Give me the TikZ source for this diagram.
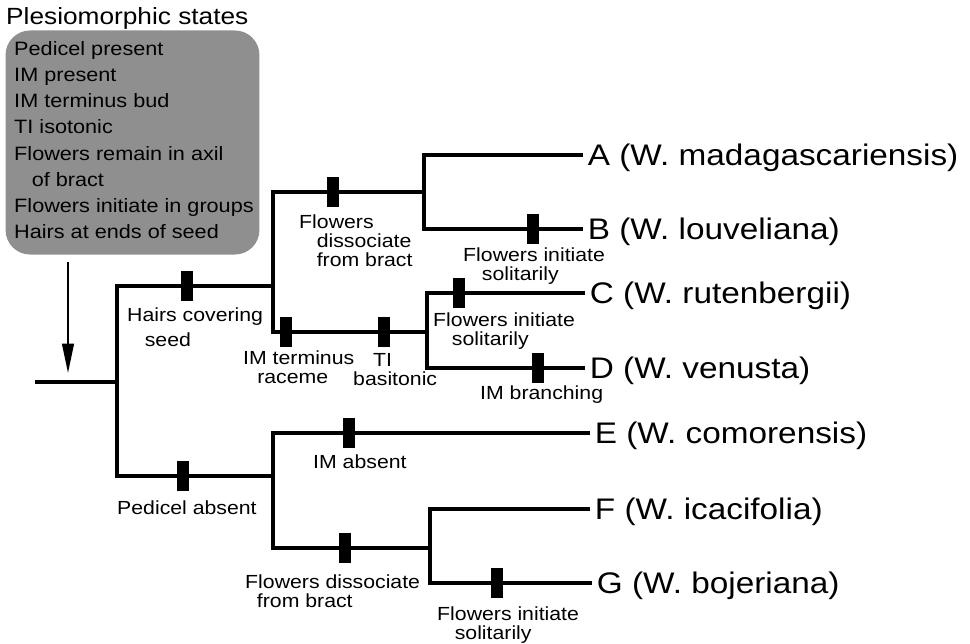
\documentclass[tikz,border=0pt]{standalone}
\usepackage{fontspec}
\setmainfont{Liberation Sans}[FakeStretch=1.12]
\usetikzlibrary{arrows.meta}
\definecolor{boxgrey}{gray}{0.56}
\tikzset{
  branch/.style={line width=3.6pt, line join=miter},
  tick/.style={fill=black, inner sep=0pt, minimum width=10pt, minimum height=25.5pt},
  trait/.style={anchor=north west, inner sep=0pt, align=left, font=\fontsize{16.2}{16}\selectfont},
  taxon/.style={anchor=base west, inner sep=4pt, yshift=-9.1pt, font=\fontsize{25.4}{28}\selectfont},
  statebox/.style={fill=boxgrey, rounded corners=21pt, inner sep=0pt, minimum width=216.75pt, minimum height=191.25pt},
}
\begin{document}
\begin{tikzpicture}[x={(0.03cm,0cm)}, y={(0cm,-0.03cm)}]
  \useasboundingbox (0,0) rectangle (970,644);
  % plesiomorphic states
  \node[anchor=base west, inner sep=0pt, font=\fontsize{20}{24}\selectfont] (title) at (6,25) {Plesiomorphic states};
  \node[statebox] (states) at (132.5,142.5) {};
  \node[anchor=north west, inner sep=0pt, align=left, font=\fontsize{16.5}{22.4}\selectfont] (statelist) at (14,41)
    {Pedicel present\\IM present\\IM terminus bud\\TI isotonic\\Flowers remain in axil\\\hspace*{15pt}of bract\\Flowers initiate in groups\\Hairs at ends of seed};
  \coordinate (arrtop) at (68,262);
  \coordinate (arrtip) at (68,373);
  \draw[line width=1.7pt, -{Triangle[length=25pt, width=10pt]}] (arrtop) -- (arrtip);

  % tree nodes
  \coordinate (r0) at (35,382);
  \coordinate (r) at (117,382);
  \coordinate (u) at (273,286);
  \coordinate (ab) at (424,192);
  \coordinate (cd) at (427,332);
  \coordinate (l) at (273,476);
  \coordinate (fg) at (430,548);
  \coordinate (A) at (583,155);
  \coordinate (B) at (583,229);
  \coordinate (C) at (585,293);
  \coordinate (D) at (585,368);
  \coordinate (E) at (590,433);
  \coordinate (F) at (590,509);
  \coordinate (G) at (592,583);

  \draw[branch] (r0) -- (r);
  \draw[branch] (r) |- (u);
  \draw[branch] (r) |- (l);
  \draw[branch] (u) |- (ab);
  \draw[branch] (u) |- (cd);
  \draw[branch] (ab) |- (A);
  \draw[branch] (ab) |- (B);
  \draw[branch] (cd) |- (C);
  \draw[branch] (cd) |- (D);
  \draw[branch] (l) |- (E);
  \draw[branch] (l) |- (fg);
  \draw[branch] (fg) |- (F);
  \draw[branch] (fg) |- (G);

  % character changes
  \node[tick] (hairs) at (187,286) {};
  \node[tick] (dissup) at (333,192) {};
  \node[tick] (soliB) at (533,229) {};
  \node[tick] (soliC) at (459,293) {};
  \node[tick] (raceme) at (286,332) {};
  \node[tick] (basi) at (384,332) {};
  \node[tick] (branching) at (538,368) {};
  \node[tick] (pedicel) at (183,476) {};
  \node[tick] (imabs) at (349,433) {};
  \node[tick] (disslow) at (345,548) {};
  \node[tick] (soliG) at (497,583) {};

  \node[trait] (hairslab) at (127,308) {Hairs covering\\[5pt]\hspace*{15pt}seed};
  \node[trait] (dissuplab) at (299,215) {Flowers\\\hspace*{15pt}dissociate\\\hspace*{15pt}from bract};
  \node[trait] (soliBlab) at (463,248) {Flowers initiate\\\hspace*{16pt}solitarily};
  \node[trait] (soliClab) at (433,313) {Flowers initiate\\\hspace*{16pt}solitarily};
  \node[trait] (racemelab) at (243,351) {IM terminus\\\hspace*{12pt}raceme};
  \node[trait] (basilab) at (353,353) {\hspace*{17pt}TI\\basitonic};
  \node[trait] (branchinglab) at (480,386) {IM branching};
  \node[trait] (pedicellab) at (117,501) {Pedicel absent};
  \node[trait] (imabslab) at (313,455) {IM absent};
  \node[trait] (disslowlab) at (245,575) {Flowers dissociate\\\hspace*{10pt}from bract};
  \node[trait] (soliGlab) at (437,607) {Flowers initiate\\\hspace*{15pt}solitarily};

  % taxa
  \node[taxon] (Alab) at (A) {A (W. madagascariensis)};
  \node[taxon] (Blab) at (B) {B (W. louveliana)};
  \node[taxon] (Clab) at (C) {C (W. rutenbergii)};
  \node[taxon] (Dlab) at (D) {D (W. venusta)};
  \node[taxon] (Elab) at (E) {E (W. comorensis)};
  \node[taxon] (Flab) at (F) {F (W. icacifolia)};
  \node[taxon] (Glab) at (G) {G (W. bojeriana)};
\end{tikzpicture}
\end{document}
